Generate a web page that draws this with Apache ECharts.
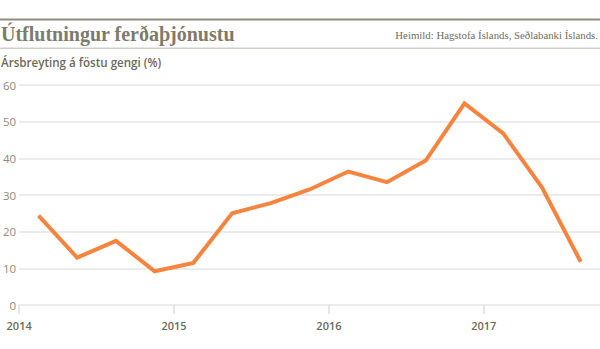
<!DOCTYPE html>
<html><head><meta charset="utf-8">
<script src="https://cdn.jsdelivr.net/npm/echarts@6/dist/echarts.min.js"></script>
<style>html,body{margin:0;padding:0;background:#fff}#c{width:600px;height:349px}</style>
</head><body><div id="c"></div>
<script>
const titleText = "Útflutningur ferðaþjónustu";
const sourceText = "Heimild: Hagstofa Íslands, Seðlabanki Íslands.";
const subtitleText = "Ársbreyting á föstu gengi (%)";
const quarters = ["2014Q1","2014Q2","2014Q3","2014Q4","2015Q1","2015Q2","2015Q3","2015Q4","2016Q1","2016Q2","2016Q3","2016Q4","2017Q1","2017Q2","2017Q3"];
const values = [24.4, 12.9, 17.5, 9.2, 11.5, 25.0, 27.8, 31.5, 36.4, 33.5, 39.4, 55.0, 46.8, 32.1, 11.8];
const yTicks = [0, 10, 20, 30, 40, 50, 60];
const xYears = [2014, 2015, 2016, 2017];

const data = quarters.map((q, i) => {
  const y = parseInt(q.slice(0, 4), 10);
  const n = parseInt(q.slice(5), 10);
  return [y + (n - 0.5) / 4, values[i]];
});

const chart = echarts.init(document.getElementById('c'), null, {renderer: 'svg'});
chart.setOption({
  animation: false,
  graphic: [
    {type: 'rect', shape: {x: 0, y: 18.5, width: 600, height: 2}, style: {fill: '#8e8c7e'}},
    {type: 'rect', shape: {x: 0, y: 47.5, width: 600, height: 1.5}, style: {fill: '#cfcfc8'}},
    {type: 'text', left: 1, top: 24, style: {text: titleText, font: 'bold 20px "Liberation Serif", "DejaVu Serif", serif', fill: '#7d7c6b'}},
    {type: 'text', right: 2, top: 29.5, style: {text: sourceText, font: '10.8px "Liberation Serif", serif', fill: '#6f6e60'}},
    {type: 'text', left: 1, top: 56, style: {text: subtitleText, font: '600 11.6px "Open Sans", sans-serif', fill: '#6b6a5c'}}
  ],
  grid: {left: 17, right: 0, top: 85, bottom: 44, containLabel: false},
  xAxis: {
    type: 'value', min: xYears[0], max: 2017.75, interval: 1,
    axisLine: {show: false},
    axisTick: {show: true, length: 9, lineStyle: {color: '#dcdcdc', width: 1.5}},
    splitLine: {show: false},
    axisLabel: {
      showMaxLabel: false, margin: 15,
      formatter: v => xYears.includes(v) ? String(v) : '',
      color: '#6b6a5c', fontFamily: '"Open Sans", sans-serif', fontSize: 11, fontWeight: 600
    }
  },
  yAxis: {
    type: 'value', min: yTicks[0], max: yTicks[yTicks.length - 1], interval: 10,
    axisLine: {show: false}, axisTick: {show: false},
    splitLine: {lineStyle: {color: '#e4e4e4', width: 1.5}},
    axisLabel: {margin: 3, color: '#8c8b7e', fontFamily: '"Open Sans", sans-serif', fontSize: 11.5}
  },
  series: [{
    type: 'line', data: data, symbol: 'none',
    lineStyle: {color: '#f5843e', width: 4, join: 'miter'}
  }]
});
</script></body></html>
